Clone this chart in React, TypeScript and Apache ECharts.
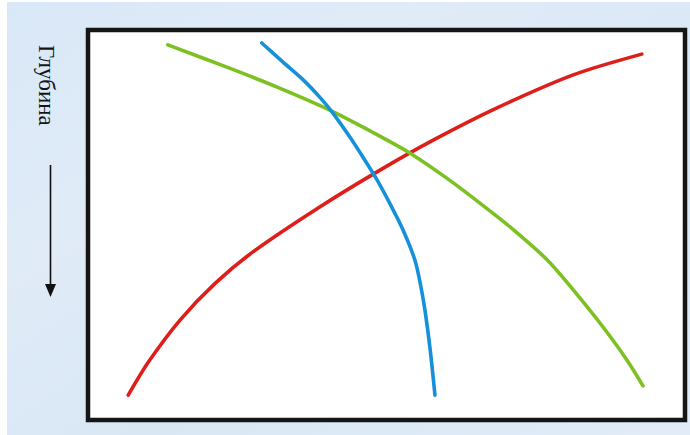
import React, { useEffect, useRef } from "react";
import * as echarts from "echarts";

// x: relative property value (0-100), y: relative depth (0-100, increasing downward)
const redX = [6.3, 9.8, 15.1, 21.0, 27.4, 38.7, 48.9, 57.9, 68.7, 81.6, 93.2];
const redY = [94.3, 85.5, 74.7, 65.2, 57.0, 45.3, 35.7, 27.9, 19.5, 10.9, 5.5];

const greenX = [13.0, 23.0, 31.5, 40.4, 49.4, 54.0, 60.2, 65.8, 70.9, 77.2, 81.6, 86.6, 90.7, 93.4];
const greenY = [3.1, 8.9, 14.1, 20.1, 27.3, 31.3, 37.8, 44.3, 50.5, 59.1, 66.9, 76.5, 85.2, 91.9];

const blueX = [28.9, 32.5, 35.9, 38.7, 40.9, 43.8, 46.0, 48.3, 50.6, 52.8, 54.8, 55.7, 56.5, 57.4, 58.2];
const blueY = [2.6, 7.6, 12.2, 16.7, 20.8, 27.1, 32.3, 38.0, 44.5, 51.3, 59.1, 65.1, 72.1, 82.6, 94.3];

const axisLabel = "Глубина";

const pairs = (xs: number[], ys: number[]) => xs.map((x, i) => [x, ys[i]]);

export default function App() {
  const ref = useRef<HTMLDivElement>(null);
  useEffect(() => {
    if (!ref.current) return;
    const chart = echarts.init(ref.current, undefined, { renderer: "svg" });
    const line = (name: string, color: string, data: number[][]) => ({
      name,
      type: "line",
      data,
      smooth: 0.3,
      showSymbol: false,
      symbol: "none",
      lineStyle: { color, width: 3.6, cap: "round", join: "round" },
      z: 5,
    });
    chart.setOption({
      animation: false,
      backgroundColor: "#ffffff",
      grid: { left: 91, right: 8, top: 33, bottom: 18 },
      xAxis: { type: "value", min: 0, max: 100, show: false },
      yAxis: { type: "value", min: 0, max: 100, inverse: true, show: false },
      graphic: [
        {
          type: "rect",
          shape: { x: 7, y: 2, width: 683, height: 433 },
          style: {
            fill: new echarts.graphic.LinearGradient(0, 0, 1, 1, [
              { offset: 0, color: "#d9e8f7" },
              { offset: 0.3, color: "#e0ebf7" },
              { offset: 0.6, color: "#d9e7f5" },
              { offset: 1, color: "#e1ecf8" },
            ]),
          },
          z: -10,
        },
        {
          type: "rect",
          shape: { x: 88, y: 30, width: 597, height: 390 },
          style: { fill: "#ffffff", stroke: "#151515", lineWidth: 4.5 },
          z: -5,
        },
        {
          type: "text",
          x: 46.5,
          y: 45,
          rotation: -Math.PI / 2,
          style: {
            text: axisLabel,
            font: '23px "Liberation Serif", "Times New Roman", serif',
            fill: "#151515",
            align: "left",
            verticalAlign: "middle",
          },
        },
        {
          type: "line",
          shape: { x1: 50.5, y1: 165, x2: 50.5, y2: 287 },
          style: { stroke: "#111111", lineWidth: 1.6 },
        },
        {
          type: "polygon",
          shape: { points: [[45, 284], [56, 284], [50.5, 297]] },
          style: { fill: "#111111" },
        },
      ],
      series: [
        line("red", "#de1e19", pairs(redX, redY)),
        line("green", "#7cc021", pairs(greenX, greenY)),
        line("blue", "#1591dc", pairs(blueX, blueY)),
      ],
    });
    return () => chart.dispose();
  }, []);
  return (
    <div
      ref={ref}
      style={{ position: "fixed", left: 0, top: 0, width: 690, height: 435 }}
    />
  );
}
